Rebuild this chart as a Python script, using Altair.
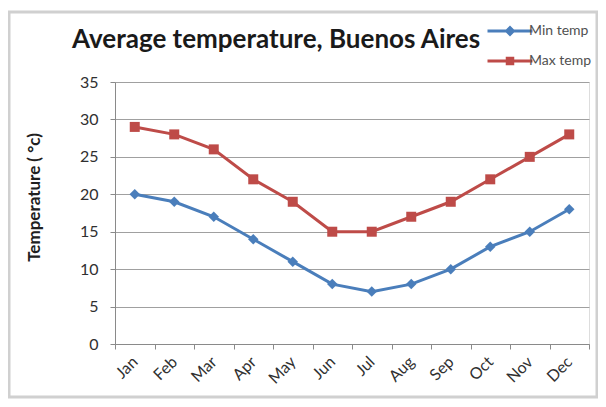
import altair as alt
import pandas as pd

months = ["Jan", "Feb", "Mar", "Apr", "May", "Jun", "Jul", "Aug", "Sep", "Oct", "Nov", "Dec"]
min_temp = [20, 19, 17, 14, 11, 8, 7, 8, 10, 13, 15, 18]
max_temp = [29, 28, 26, 22, 19, 15, 15, 17, 19, 22, 25, 28]
series_names = ["Min temp", "Max temp"]
series_colors = ["#4A7EBB", "#BE4B48"]
series_shapes = ["diamond", "square"]
y_ticks = [0, 5, 10, 15, 20, 25, 30, 35]

rows = []
for m, lo, hi in zip(months, min_temp, max_temp):
    rows.append({"Month": m, "Series": series_names[0], "Temp": lo})
    rows.append({"Month": m, "Series": series_names[1], "Temp": hi})
df = pd.DataFrame(rows)

FONT = "Lato"

x_enc = alt.X(
    "Month:N",
    sort=months,
    bandPosition=0.5,
    scale=alt.Scale(type="band", paddingInner=0, paddingOuter=0),
    axis=alt.Axis(
        title=None,
        labelAngle=-45,
        labelAlign="right",
        labelBaseline="middle",
        labelFontSize=16,
        labelFont=FONT,
        labelColor="#303030",
        labelPadding=10,
        tickBand="extent",
        tickSize=5,
        tickColor="#8a8a8a",
        domainColor="#8a8a8a",
        grid=False,
    ),
)
y_enc = alt.Y(
    "Temp:Q",
    scale=alt.Scale(domain=[0, 35], nice=False),
    axis=alt.Axis(
        values=y_ticks,
        title="Temperature ( °c)",
        titleFont=FONT,
        titleFontSize=17,
        titleFontWeight="bold",
        titleColor="#202020",
        titleX=-72,
        titleY=115,
        labelFontSize=16,
        labelFont=FONT,
        labelColor="#303030",
        labelPadding=12,
        tickSize=5,
        tickColor="#8a8a8a",
        domainColor="#8a8a8a",
        gridColor="#a0a0a0",
        gridWidth=1.2,
    ),
)

series_layers = []
for name, col, shp in zip(series_names, series_colors, series_shapes):
    base = alt.Chart(df).transform_filter(alt.datum.Series == name)
    series_layers.append(base.mark_line(strokeWidth=3, color=col).encode(x=x_enc, y=y_enc))
    series_layers.append(
        base.mark_point(shape=shp, filled=True, size=110 if shp == "diamond" else 100, opacity=1, color=col).encode(
            x=x_enc, y=y_enc
        )
    )

# legend symbols: a short line with the series marker in the middle
path_min = "M-4.5,-0.3H4.5V0.3H-4.5Z M0,-1.1L1.1,0L0,1.1L-1.1,0Z"
path_max = "M-4.5,-0.3H4.5V0.3H-4.5Z M-0.85,-0.85H0.85V0.85H-0.85Z"

leg = alt.Legend(
    orient="none",
    legendX=388,
    legendY=-58,
    labelFont=FONT,
    labelFontSize=14,
    labelColor="#505050",
    labelOffset=12,
    rowPadding=13,
    padding=0,
    symbolOpacity=1,
)
legend_layer = alt.Chart(df).transform_filter("false").mark_point(
    filled=True, size=64, opacity=1
).encode(
    x=x_enc,
    y=y_enc,
    fill=alt.Fill("Series:N", scale=alt.Scale(domain=series_names, range=series_colors), legend=leg, title=None),
    shape=alt.Shape("Series:N", scale=alt.Scale(domain=series_names, range=[path_min, path_max]), legend=leg, title=None),
)

frame = alt.Chart(pd.DataFrame({"k": [0]})).mark_rect(
    fill="transparent", stroke="#d0d0d0", strokeWidth=3
).encode(x=alt.value(-106), x2=alt.value(482), y=alt.value(-70), y2=alt.value(315))

chart = alt.layer(frame, *series_layers, legend_layer).properties(
    width=474,
    height=262,
    autosize=alt.AutoSizeParams(type="none"),
    padding={"left": 107, "top": 74, "right": 9, "bottom": 55},
    title=alt.TitleParams(
        "Average temperature, Buenos Aires",
        anchor="start",
        frame="group",
        font=FONT,
        fontSize=26,
        fontWeight="bold",
        color="#1a1a1a",
        baseline="alphabetic",
        dx=-43,
        dy=63,
        offset=0,
    ),
).configure_view(stroke=None).configure(background="white")

chart.save("out.html", embed_options={"renderer": "svg", "actions": False})
